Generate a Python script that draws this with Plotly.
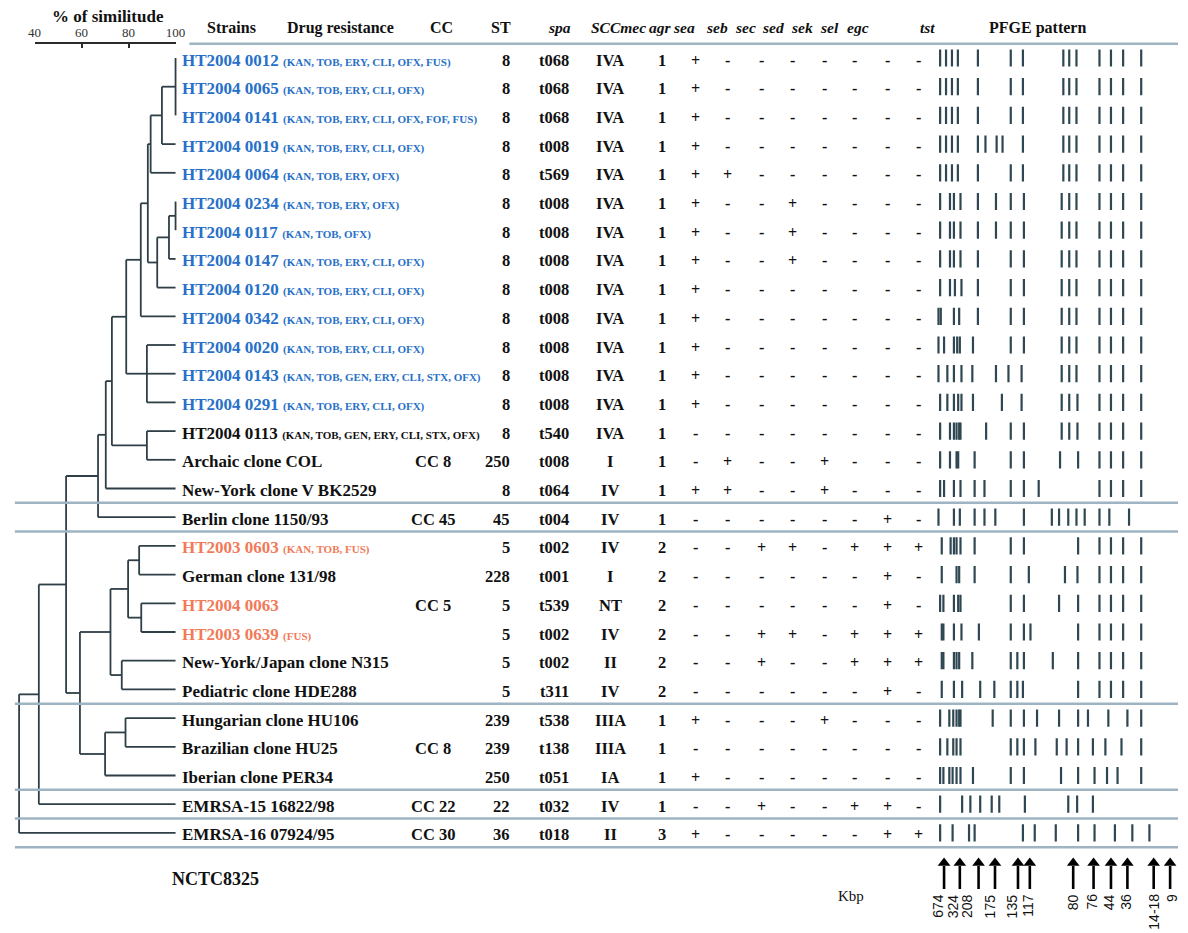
import plotly.graph_objects as go

W, H = 1188, 933
SERIF = "Liberation Serif"

# ---- table data -------------------------------------------------------
strains = ["HT2004 0012", "HT2004 0065", "HT2004 0141", "HT2004 0019", "HT2004 0064",
           "HT2004 0234", "HT2004 0117", "HT2004 0147", "HT2004 0120", "HT2004 0342",
           "HT2004 0020", "HT2004 0143", "HT2004 0291", "HT2004 0113",
           "Archaic clone COL", "New-York clone V BK2529", "Berlin clone 1150/93",
           "HT2003 0603", "German clone 131/98", "HT2004 0063", "HT2003 0639",
           "New-York/Japan clone N315", "Pediatric clone HDE288",
           "Hungarian clone HU106", "Brazilian clone HU25", "Iberian clone PER34",
           "EMRSA-15 16822/98", "EMRSA-16 07924/95"]
resistance = ["(KAN, TOB, ERY, CLI, OFX, FUS)", "(KAN, TOB, ERY, CLI, OFX)",
              "(KAN, TOB, ERY, CLI, OFX, FOF, FUS)", "(KAN, TOB, ERY, CLI, OFX)",
              "(KAN, TOB, ERY, OFX)", "(KAN, TOB, ERY, OFX)", "(KAN, TOB, OFX)",
              "(KAN, TOB, ERY, CLI, OFX)", "(KAN, TOB, ERY, CLI, OFX)",
              "(KAN, TOB, ERY, CLI, OFX)", "(KAN, TOB, ERY, CLI, OFX)",
              "(KAN, TOB, GEN, ERY, CLI, STX, OFX)", "(KAN, TOB, ERY, CLI, OFX)",
              "(KAN, TOB, GEN, ERY, CLI, STX, OFX)",
              "", "", "", "(KAN, TOB, FUS)", "", "", "(FUS)", "", "", "", "", "", "", ""]
group = ["b"] * 13 + ["k"] * 4 + ["o", "k", "o", "o"] + ["k"] * 7
cc = ["", "", "", "", "", "", "", "", "", "", "", "", "", "", "CC 8", "", "CC 45",
      "", "", "CC 5", "", "", "", "", "CC 8", "", "CC 22", "CC 30"]
st = ["8"] * 14 + ["250", "8", "45", "5", "228", "5", "5", "5", "5",
                   "239", "239", "250", "22", "36"]
spa = ["t068", "t068", "t068", "t008", "t569", "t008", "t008", "t008", "t008", "t008",
       "t008", "t008", "t008", "t540", "t008", "t064", "t004", "t002", "t001", "t539",
       "t002", "t002", "t311", "t538", "t138", "t051", "t032", "t018"]
sccmec = ["IVA"] * 14 + ["I", "IV", "IV", "IV", "I", "NT", "IV", "II", "IV",
                         "IIIA", "IIIA", "IA", "IV", "II"]
agr = ["1"] * 17 + ["2"] * 6 + ["1", "1", "1", "1", "3"]
genes = ["sea", "seb", "sec", "sed", "sek", "sel", "egc", "tst"]
toxins = ["+-------", "+-------", "+-------", "+-------", "++------",
          "+--+----", "+--+----", "+--+----", "+-------", "+-------",
          "+-------", "+-------", "+-------", "--------",
          "-+--+---", "++--+---", "------+-",
          "--++-+++", "------+-", "------+-", "--++-+++", "--+--+++", "------+-",
          "+---+---", "--------", "+-------", "--+--++-", "+-----++"]

# ---- dendrogram (leaves 0..27, internal nodes numbered from 28) -------
merge_children = [[0, 1, 2], [28, 3], [29, 4], [5, 6], [31, 7], [32, 8], [30, 33],
                  [34, 9], [10, 11, 12], [35, 36], [13, 14], [37, 38], [39, 15],
                  [40, 16], [17, 18], [19, 20], [42, 43], [21, 22], [44, 45],
                  [23, 24], [47, 25], [46, 48], [41, 49], [50, 26], [51, 27]]
merge_sim = [100, 94.2, 89.4, 100, 97.2, 92.2, 88.2, 85.2, 87.8, 79.0, 87.8, 72.9,
             70.3, 67.0, 84.5, 85.4, 79.8, 77.1, 72.3, 78.7, 70.0, 59.3, 53.4,
             41.8, 33.4]

# ---- PFGE band positions per strain (lane units) ----------------------
bands = [
    [50, 68, 86, 104, 165, 265, 302, 425, 443, 465, 535, 570, 607, 662],
    [50, 68, 86, 104, 165, 265, 302, 425, 443, 465, 535, 570, 607, 662],
    [50, 68, 86, 104, 165, 265, 302, 425, 443, 465, 535, 570, 607, 662],
    [50, 68, 86, 104, 165, 188, 222, 240, 302, 425, 443, 465, 535, 570, 607, 662],
    [50, 68, 86, 104, 165, 265, 302, 425, 443, 465, 535, 570, 607, 662],
    [50, 80, 92, 112, 165, 220, 265, 305, 420, 443, 465, 535, 570, 607, 662],
    [50, 80, 92, 112, 165, 220, 265, 305, 420, 443, 465, 535, 570, 607, 662],
    [50, 80, 92, 112, 165, 265, 305, 420, 443, 465, 535, 570, 607, 662],
    [50, 80, 95, 115, 165, 265, 305, 420, 443, 465, 535, 570, 607, 662],
    [45, 52, 92, 108, 165, 265, 305, 420, 443, 465, 535, 570, 607, 662],
    [45, 62, 92, 102, 110, 150, 265, 305, 420, 443, 465, 535, 570, 607, 662],
    [45, 72, 92, 115, 148, 220, 258, 298, 420, 443, 465, 535, 570, 607, 662],
    [50, 72, 92, 105, 115, 150, 238, 298, 420, 443, 468, 535, 570, 607, 662],
    [50, 80, 92, 100, 108, 112, 190, 265, 305, 420, 443, 468, 535, 570, 607, 662],
    [50, 80, 100, 105, 155, 265, 305, 415, 470, 535, 570, 607, 662],
    [50, 62, 92, 112, 155, 185, 265, 305, 350, 535, 570, 607, 662],
    [45, 92, 110, 155, 185, 218, 305, 390, 412, 440, 465, 490, 535, 565, 625],
    [55, 82, 92, 100, 112, 155, 265, 305, 470, 535, 570, 607, 662],
    [55, 100, 108, 155, 265, 320, 430, 468, 535, 570, 607, 662],
    [50, 60, 92, 105, 112, 265, 305, 412, 470, 535, 570, 607, 662],
    [55, 60, 92, 115, 168, 265, 305, 325, 470, 535, 570, 607, 662],
    [55, 60, 92, 100, 108, 148, 265, 285, 305, 393, 470, 535, 570, 607, 662],
    [55, 92, 117, 172, 215, 265, 285, 302, 470, 535, 570, 607, 662],
    [50, 78, 90, 100, 108, 112, 210, 265, 305, 345, 412, 470, 500, 562, 620, 662],
    [50, 72, 90, 100, 112, 265, 285, 305, 340, 405, 435, 470, 515, 553, 602, 662],
    [50, 60, 78, 88, 100, 112, 150, 265, 305, 418, 470, 520, 558, 590, 662],
    [50, 117, 142, 172, 207, 230, 308, 440, 467, 515],
    [50, 88, 138, 155, 302, 338, 402, 470, 520, 582, 635, 687],
]

# size markers of the reference strain NCTC8325
marker_kbp = ["674", "324", "208", "175", "135", "117", "80", "76", "44", "36", "14-18", "9"]
marker_pos = [62, 110, 167, 217, 287, 323, 455, 517, 570, 620, 700, 750]
marker_label_pos = [43, 90, 132, 203, 270, 315, 455, 511, 565, 615, 700, 756]

separators = [15.5, 16.5, 22.5, 25.5, 26.5, 27.5]

# ---- geometry (screen pixels) -----------------------------------------
ROW0, ROWH = 58, 28.7
PX_PER_PCT = 143 / 60.0   # 40% at x=28, 100% at x=171


def row_of(py):
    return (py - ROW0) / ROWH


def px(x):
    return x / W


colors = {"b": "#2770c8", "k": "#111111", "o": "#f27a58"}
line_col = "#2e3f47"

fig = go.Figure()

# dendrogram
n_leaf = len(strains)
node_x = {i: 100.0 for i in range(n_leaf)}
node_y = {i: float(i) for i in range(n_leaf)}
dx, dy = [], []
for k, (ch, s) in enumerate(zip(merge_children, merge_sim)):
    nid = n_leaf + k
    ys = [node_y[c] for c in ch]
    node_x[nid] = s
    node_y[nid] = (min(ys) + max(ys)) / 2
    dx += [s, s, None]
    dy += [min(ys), max(ys), None]
    for c in ch:
        dx += [s, node_x[c], None]
        dy += [node_y[c], node_y[c], None]
fig.add_trace(go.Scatter(x=dx, y=dy, mode="lines", xaxis="x", yaxis="y",
                         line=dict(color=line_col, width=1.8), hoverinfo="skip"))
# scale axis carrier
fig.add_trace(go.Scatter(x=[40, 100], y=[None, None], xaxis="x2", yaxis="y",
                         mode="markers", hoverinfo="skip"))

# PFGE bands
bx, by = [], []
for r, row in enumerate(bands):
    for b in row:
        bx += [b, b, None]
        by += [r - 0.3, r + 0.3, None]
fig.add_trace(go.Scatter(x=bx, y=by, mode="lines", xaxis="x3", yaxis="y",
                         line=dict(color="#2f4752", width=2.2), hoverinfo="skip"))

# size marker arrows
ax_, ay_ = [], []
for m in marker_pos:
    ax_ += [m, m, None]
    ay_ += [row_of(866), row_of(889), None]
fig.add_trace(go.Scatter(x=ax_, y=ay_, mode="lines", xaxis="x3", yaxis="y",
                         line=dict(color="black", width=2.6), hoverinfo="skip"))
fig.add_trace(go.Scatter(x=marker_pos, y=[row_of(863)] * len(marker_pos), mode="markers",
                         xaxis="x3", yaxis="y", hoverinfo="skip",
                         marker=dict(symbol="triangle-up", size=11, color="black")))

ann = []


def text(x, y, s, size=16.5, color="#111111", anchor="center", **kw):
    ann.append(dict(x=px(x), y=y, xref="paper", yref="y", text=s, showarrow=False,
                    xanchor=anchor, yanchor="middle",
                    font=dict(family=SERIF, size=size, color=color), **kw))


# headers
hy = row_of(27.5)
text(102, row_of(16), "<b>% of similitude</b>", size=17)
text(228, hy, "<b>Strains</b>", size=16)
text(338, hy, "<b>Drug resistance</b>", size=16)
text(441, hy, "<b>CC</b>", size=16)
text(501, hy, "<b>ST</b>", size=16)
text(561, hy, "<b><i>spa</i></b>", size=15.5)
text(620, hy, "<b><i>SCCmec</i></b>", size=15.5)
text(663, hy, "<b><i>agr</i></b>", size=15.5)
gene_head_x = [687, 720, 749, 777, 807, 834, 863, 934]
for g, gx in zip(genes, gene_head_x):
    text(gx, hy, "<b><i>%s</i></b>" % g, size=15.5)
text(1045, hy, "<b>PFGE pattern</b>", size=16)

# rows
gene_x = [699, 731, 765, 797, 829, 860, 893, 925]
for r in range(n_leaf):
    ty = r + 0.07
    col = colors[group[r]]
    s = "<b>%s</b>" % strains[r]
    if resistance[r]:
        s += " <span style='font-size:11px'><b>%s</b></span>" % resistance[r]
    text(176, ty, s, size=17, color=col, anchor="left")
    if cc[r]:
        text(432, ty, "<b>%s</b>" % cc[r])
    text(512, ty, "<b>%s</b>" % st[r], anchor="right")
    text(555, ty, "<b>%s</b>" % spa[r])
    text(612, ty, "<b>%s</b>" % sccmec[r])
    text(665, ty, "<b>%s</b>" % agr[r])
    for g, gx in zip(toxins[r], gene_x):
        text(gx, ty, "<b>%s</b>" % g, size=16)

text(165, row_of(879), "<b>NCTC8325</b>", size=18, anchor="left")
text(856, row_of(896), "Kbp", size=15)

# marker labels (rotated)
for lab, lp in zip(marker_kbp, marker_label_pos):
    ann.append(dict(x=lp, y=row_of(892), xref="x3", yref="y", text=lab, showarrow=False,
                    textangle=-90, xanchor="center", yanchor="top",
                    font=dict(family="Liberation Sans", size=14, color="#111111")))

# separators
shapes = [dict(type="line", xref="paper", yref="y", x0=px(185), x1=1, y0=-0.5, y1=-0.5,
               line=dict(color="#9fb4c2", width=2.5))]
for s in separators:
    shapes.append(dict(type="line", xref="paper", yref="y", x0=px(8), x1=1, y0=s, y1=s,
                       line=dict(color="#9fb4c2", width=2.5)))

hidden = dict(visible=False, showgrid=False, zeroline=False)
fig.update_layout(
    width=W, height=H, margin=dict(l=0, r=0, t=0, b=0),
    paper_bgcolor="white", plot_bgcolor="rgba(0,0,0,0)", showlegend=False,
    xaxis=dict(domain=[0, 1],
               range=[40 - 28 / PX_PER_PCT, 40 + (W - 28) / PX_PER_PCT], **hidden),
    xaxis2=dict(domain=[px(28), px(171)], range=[40, 100], side="top", anchor="free",
                position=1 - 43 / H, showline=True, linecolor="#2b2b2b",
                linewidth=2, ticks="inside", ticklen=4, tickcolor="#2b2b2b", tickwidth=2,
                tickvals=[40, 60, 80, 100], showgrid=False, zeroline=False,
                tickfont=dict(family=SERIF, size=13, color="#333333")),
    xaxis3=dict(domain=[px(930), 1], range=[0, 774], anchor="y", **hidden),
    yaxis=dict(domain=[0, 1], range=[row_of(H), row_of(0)], **hidden),
    annotations=ann, shapes=shapes,
)

# the page body keeps its default 8px margin otherwise
fig.write_html("out.html", config={"displayModeBar": False},
               post_script="document.body.style.margin='0';"
                           "document.body.style.overflow='hidden';")
